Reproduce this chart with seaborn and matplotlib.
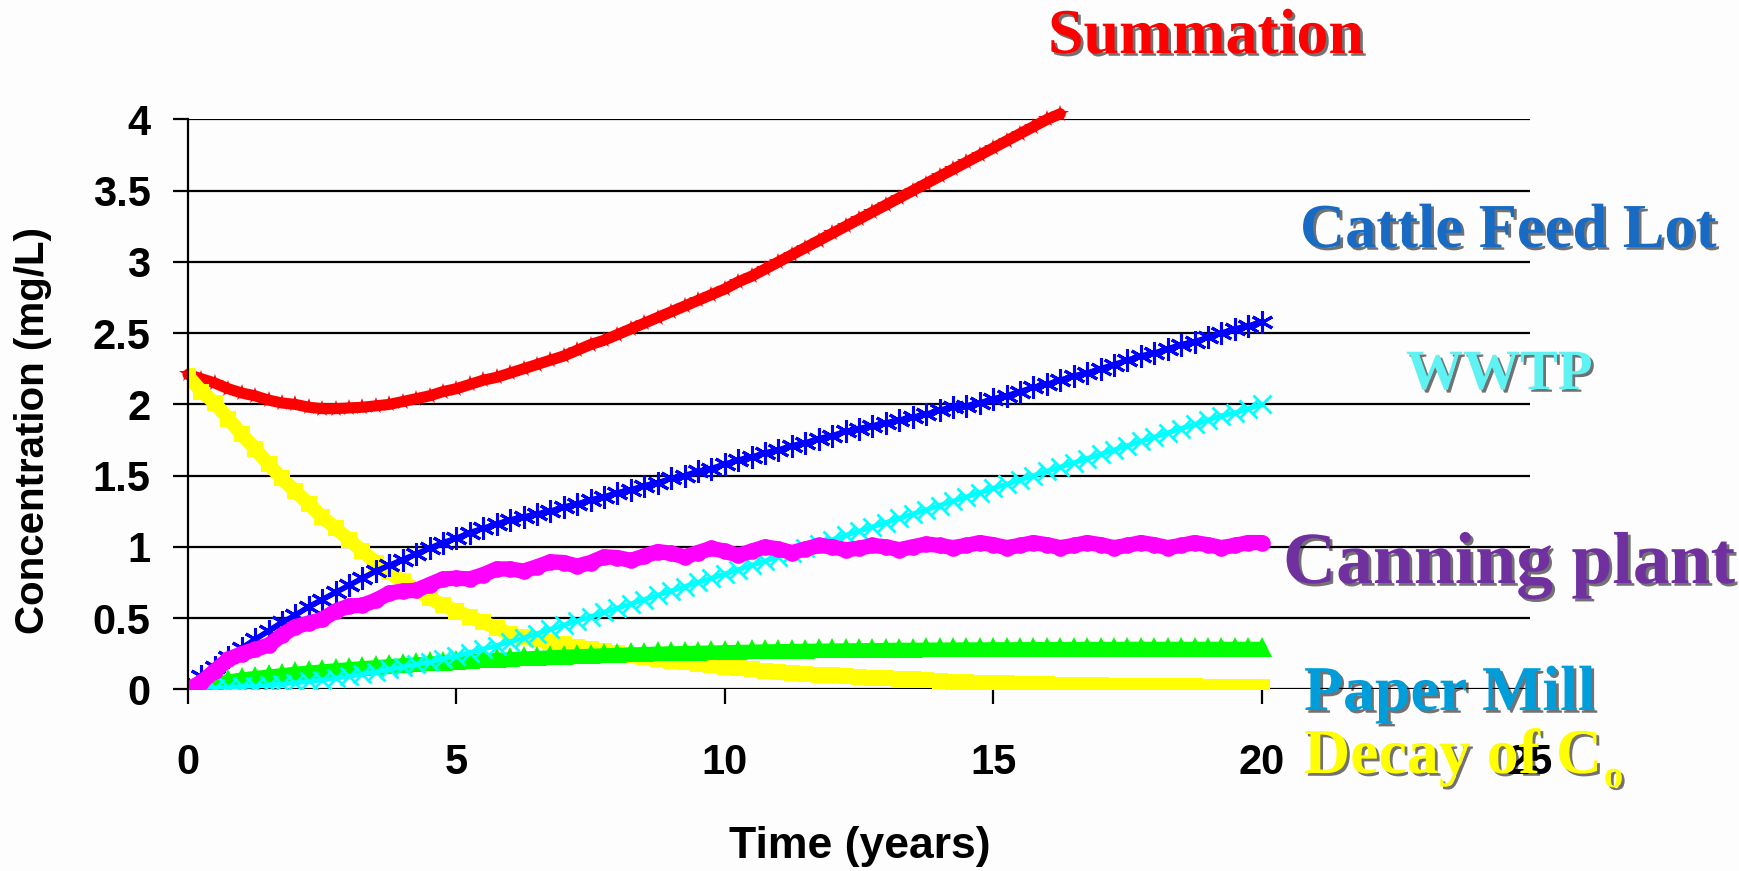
import numpy as np
import pandas as pd
import matplotlib
matplotlib.use("Agg")
import matplotlib.pyplot as plt
import matplotlib.patheffects as pe
import seaborn as sns

# ---------------------------------------------------------------------------
# Concentration of each source over time (mg/L), sampled every quarter year
# ---------------------------------------------------------------------------
time_years = np.arange(0, 20.01, 0.25)

summation = [
    2.21, 2.18, 2.15, 2.11, 2.08, 2.06, 2.03, 2.01,
    2.00, 1.98, 1.97, 1.97, 1.975, 1.98, 1.99, 2.00,
    2.02, 2.04, 2.06, 2.09, 2.11, 2.14, 2.17, 2.19,
    2.22, 2.25, 2.28, 2.31, 2.34, 2.38, 2.42, 2.45,
    2.49, 2.53, 2.57, 2.61, 2.65, 2.69, 2.73, 2.77,
    2.81, 2.86, 2.90, 2.95, 3.00, 3.05, 3.10, 3.15,
    3.20, 3.25, 3.30, 3.35, 3.40, 3.45, 3.50, 3.55,
    3.60, 3.65, 3.70, 3.75, 3.80, 3.85, 3.90, 3.95,
    4.00, 4.04, np.nan, np.nan, np.nan, np.nan, np.nan, np.nan,
    np.nan, np.nan, np.nan, np.nan, np.nan, np.nan, np.nan, np.nan,
    np.nan,
]

decay_c0 = [
    2.20, 2.09, 2.01, 1.90, 1.79, 1.69, 1.58, 1.48,
    1.39, 1.30, 1.21, 1.13, 1.05, 0.97, 0.89, 0.82,
    0.76, 0.70, 0.64, 0.59, 0.55, 0.51, 0.47, 0.43,
    0.39, 0.37, 0.35, 0.33, 0.32, 0.30, 0.285, 0.27,
    0.255, 0.24, 0.23, 0.215, 0.20, 0.19, 0.178, 0.168,
    0.158, 0.148, 0.14, 0.131, 0.123, 0.116, 0.109, 0.103,
    0.097, 0.092, 0.087, 0.082, 0.078, 0.073, 0.069, 0.063,
    0.058, 0.054, 0.050, 0.047, 0.044, 0.041, 0.038, 0.036,
    0.034, 0.032, 0.030, 0.028, 0.027, 0.026, 0.025, 0.024,
    0.023, 0.022, 0.021, 0.020, 0.019, 0.018, 0.018, 0.017,
    0.017,
]

cattle_feed_lot = [
    0.00, 0.09, 0.16, 0.23, 0.29, 0.35, 0.41, 0.47,
    0.52, 0.58, 0.63, 0.68, 0.73, 0.78, 0.83, 0.87,
    0.91, 0.95, 0.99, 1.03, 1.06, 1.10, 1.13, 1.16,
    1.19, 1.21, 1.23, 1.25, 1.28, 1.30, 1.33, 1.35,
    1.38, 1.40, 1.43, 1.45, 1.48, 1.50, 1.53, 1.55,
    1.58, 1.61, 1.63, 1.66, 1.68, 1.71, 1.73, 1.76,
    1.78, 1.81, 1.83, 1.85, 1.87, 1.89, 1.91, 1.93,
    1.96, 1.98, 1.99, 2.01, 2.04, 2.06, 2.09, 2.12,
    2.14, 2.17, 2.20, 2.22, 2.25, 2.28, 2.31, 2.34,
    2.36, 2.39, 2.42, 2.44, 2.47, 2.50, 2.53, 2.55,
    2.58,
]

paper_mill = [
    0.00, 0.03, 0.05, 0.07, 0.085, 0.095, 0.105, 0.115,
    0.125, 0.133, 0.141, 0.149, 0.157, 0.164, 0.171, 0.178,
    0.184, 0.190, 0.196, 0.202, 0.207, 0.212, 0.217, 0.222,
    0.227, 0.232, 0.236, 0.240, 0.244, 0.248, 0.251, 0.254,
    0.257, 0.260, 0.263, 0.266, 0.268, 0.270, 0.272, 0.274,
    0.276, 0.278, 0.280, 0.282, 0.283, 0.285, 0.286, 0.287,
    0.288, 0.289, 0.290, 0.291, 0.292, 0.293, 0.293, 0.294,
    0.295, 0.295, 0.296, 0.296, 0.297, 0.297, 0.297, 0.298,
    0.298, 0.298, 0.299, 0.299, 0.299, 0.299, 0.300, 0.300,
    0.300, 0.300, 0.300, 0.300, 0.300, 0.300, 0.300, 0.300,
    0.300,
]

wwtp = [
    0.000, 0.005, 0.010, 0.015, 0.020, 0.025, 0.030, 0.037,
    0.045, 0.055, 0.065, 0.078, 0.092, 0.107, 0.123, 0.140,
    0.157, 0.175, 0.194, 0.214, 0.235, 0.258, 0.282, 0.307,
    0.333, 0.360, 0.390, 0.420, 0.450, 0.480, 0.510, 0.540,
    0.57, 0.60, 0.63, 0.66, 0.69, 0.72, 0.75, 0.78,
    0.81, 0.84, 0.87, 0.90, 0.93, 0.96, 0.99, 1.02,
    1.05, 1.08, 1.11, 1.14, 1.17, 1.20, 1.23, 1.26,
    1.29, 1.32, 1.35, 1.38, 1.41, 1.44, 1.47, 1.50,
    1.53, 1.56, 1.59, 1.62, 1.65, 1.68, 1.71, 1.74,
    1.77, 1.80, 1.83, 1.86, 1.89, 1.92, 1.94, 1.97,
    2.00,
]

canning_plant = [
    0.00, 0.05, 0.13, 0.21, 0.25, 0.28, 0.31, 0.38,
    0.44, 0.465, 0.49, 0.55, 0.585, 0.59, 0.625, 0.675,
    0.69, 0.695, 0.735, 0.775, 0.78, 0.775, 0.805, 0.845,
    0.845, 0.83, 0.86, 0.895, 0.89, 0.865, 0.89, 0.93,
    0.925, 0.905, 0.935, 0.967, 0.955, 0.93, 0.96, 0.99,
    0.97, 0.94, 0.97, 1.00, 0.985, 0.96, 0.985, 1.01,
    1.00, 0.98, 0.99, 1.01, 1.00, 0.98, 1.00, 1.02,
    1.01, 0.995, 1.01, 1.03, 1.015, 0.995, 1.01, 1.03,
    1.015, 0.995, 1.01, 1.03, 1.015, 0.995, 1.01, 1.03,
    1.015, 0.995, 1.01, 1.03, 1.015, 0.995, 1.01, 1.03,
    1.03,
]

x_ticks = [0, 5, 10, 15, 20, 25]
y_ticks = [0, 0.5, 1, 1.5, 2, 2.5, 3, 3.5, 4]
y_tick_labels = ["0", "0.5", "1", "1.5", "2", "2.5", "3", "3.5", "4"]

df = pd.DataFrame({
    "Time": time_years,
    "Summation": summation,
    "Decay": decay_c0,
    "Cattle": cattle_feed_lot,
    "Paper": paper_mill,
    "WWTP": wwtp,
    "Canning": canning_plant,
})

# drawing order: later series sit on top
styles = [
    ("Summation", dict(color="#FF0000", lw=8, marker="*", markersize=13,
                       mew=0, clip_on=False)),
    ("Decay", dict(color="#FFFF00", lw=10, marker="s", markersize=12, mew=0)),
    ("Cattle", dict(color="#0000FF", lw=4, marker=(6, 2, 0), markersize=16,
                    mew=2.2, mec="#0000FF")),
    ("Paper", dict(color="#00FF00", lw=7, marker="^", markersize=14, mew=0)),
    ("WWTP", dict(color="#00FFFF", lw=3.5, marker="x", markersize=13,
                  mew=2, mec="#00FFFF")),
    ("Canning", dict(color="#FF00FF", lw=11, marker="o", markersize=12, mew=0)),
]

sns.set_theme(style="white")
plt.rcParams["font.family"] = ["Liberation Sans", "DejaVu Sans"]

W, H = 1739, 871
fig = plt.figure(figsize=(W / 100, H / 100), dpi=100, facecolor="#FDFDFD")
left, right, top, bottom = 188, 1530, 119.5, 689.3
ax = fig.add_axes([left / W, 1 - bottom / H, (right - left) / W, (bottom - top) / H])
ax.set_facecolor("#FDFDFD")

for name, kw in styles:
    sns.lineplot(data=df, x="Time", y=name, ax=ax, **kw)

ax.set_xlim(0, 25)
ax.set_ylim(0, 4)
ax.set_xticks(x_ticks)
ax.set_yticks(y_ticks)
ax.set_yticklabels(y_tick_labels)
ax.set_xlabel("")
ax.set_ylabel("")

ax.set_axisbelow(True)
ax.yaxis.grid(True, color="black", lw=1.6)
ax.xaxis.grid(False)
for side in ("top", "right", "bottom"):
    ax.spines[side].set_visible(False)
ax.spines["left"].set_color("black")
ax.spines["left"].set_linewidth(1.6)

ax.tick_params(axis="x", direction="out", length=11, width=1.6, color="black",
               pad=28, labelsize=30, bottom=True)
ax.tick_params(axis="y", direction="out", length=11, width=1.6, color="black",
               pad=16, labelsize=30, left=True)
for lab in ax.get_xticklabels() + ax.get_yticklabels():
    lab.set_fontweight("bold")
    lab.set_color("black")

fig.text(860 / W, 1 - 858 / H, "Time (years)", ha="center", va="baseline",
         fontsize=32, fontweight="bold", color="black")
fig.text(33 / W, 1 - 430 / H, "Concentration (mg/L)", rotation=90,
         ha="center", va="center", fontsize=29, fontweight="bold", color="black")

# series names written beside the curves
shadow = [pe.withSimplePatchShadow(offset=(2, -2), shadow_rgbFace="#000000", alpha=0.55)]
serif = ["Liberation Serif", "DejaVu Serif"]


def series_label(x, y, text, color, size):
    return fig.text(x / W, 1 - y / H, text, ha="left", va="baseline",
                    fontsize=size, fontweight="bold", family=serif,
                    color=color, path_effects=shadow)


series_label(1048, 53, "Summation", "#FF0000", 46)
series_label(1300, 247, "Cattle Feed Lot", "#176BC4", 45)
series_label(1406, 389, "WWTP", "#5FF2F2", 41)
series_label(1283, 583, "Canning plant", "#7030A0", 53)
series_label(1304, 710, "Paper Mill", "#009DDB", 46)
decay_txt = series_label(1304, 773, "Decay of C", "#FFFF00", 46)

fig.canvas.draw()
bb = decay_txt.get_window_extent(fig.canvas.get_renderer())
fig.text((bb.x1 + 2) / W, 1 - 787 / H, "o", ha="left", va="baseline",
         fontsize=28, fontweight="bold", family=serif, color="#FFFF00",
         path_effects=shadow)

fig.savefig("out.png", dpi=100, facecolor=fig.get_facecolor())
